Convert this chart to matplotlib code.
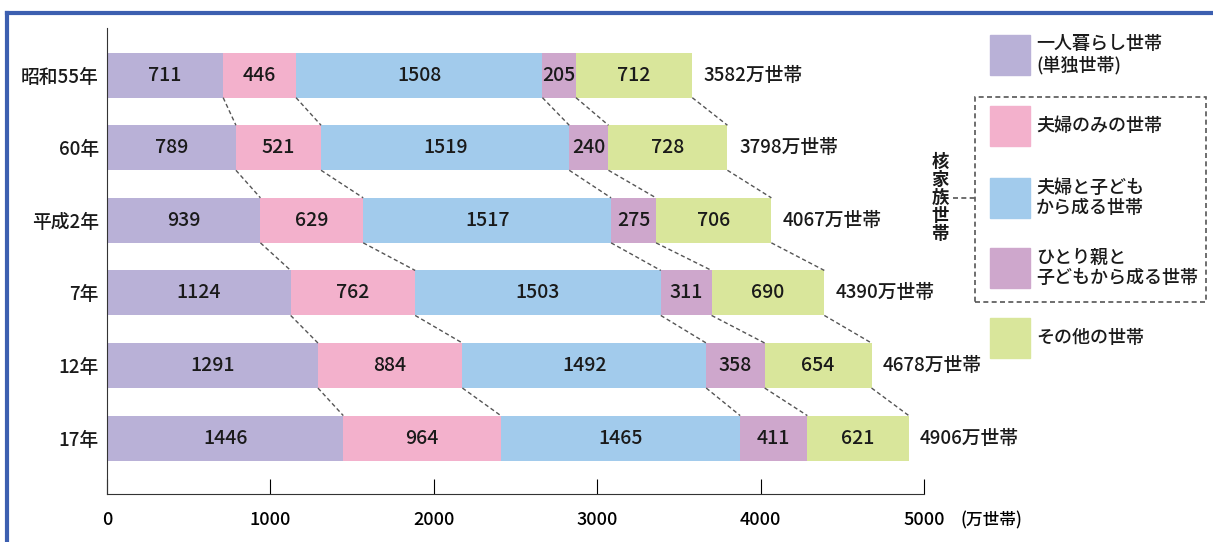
import numpy as np
import matplotlib.pyplot as plt
from matplotlib.patches import Rectangle
from matplotlib.lines import Line2D

plt.rcParams['font.family'] = ['Noto Sans CJK JP', 'DejaVu Sans']
plt.rcParams['font.weight'] = 'medium'

# データ
years = ['昭和55年', '60年', '平成2年', '7年', '12年', '17年']
single = [711, 789, 939, 1124, 1291, 1446]
couple = [446, 521, 629, 762, 884, 964]
couple_child = [1508, 1519, 1517, 1503, 1492, 1465]
single_parent = [205, 240, 275, 311, 358, 411]
other = [712, 728, 706, 690, 654, 621]
totals = [3582, 3798, 4067, 4390, 4678, 4906]

series = [single, couple, couple_child, single_parent, other]
colors = ['#b9b1d7', '#f3b1cc', '#a2cbec', '#cea7cc', '#d9e69b']
names = ['一人暮らし世帯\n(単独世帯)', '夫婦のみの世帯', '夫婦と子ども\nから成る世帯',
         'ひとり親と\n子どもから成る世帯', 'その他の世帯']

W, H = 1213, 542
fig = plt.figure(figsize=(W / 100, H / 100), dpi=100)
ax = fig.add_axes([107 / W, 1 - 494 / H, (924 - 107) / W, (494 - 28) / H])

y = np.arange(len(years))
h = 0.62
vals = np.array(series)
cum = np.cumsum(vals, axis=0)
left = cum - vals

for k in range(len(series)):
    ax.barh(y, vals[k], left=left[k], height=h, color=colors[k], edgecolor='none')
    for i in range(len(years)):
        ax.text(left[k][i] + vals[k][i] / 2, y[i], str(vals[k][i]),
                ha='center', va='center', fontsize=14, color='#1a1a1a')

# 点線の接続線
for k in range(len(series)):
    for i in range(len(years) - 1):
        ax.plot([cum[k][i], cum[k][i + 1]], [y[i] + h / 2, y[i + 1] - h / 2],
                ls=(0, (3, 2)), color='#555555', lw=1)

for i in range(len(years)):
    ax.text(totals[i] + 70, y[i], f'{totals[i]}万世帯', ha='left', va='center',
            fontsize=13.5, color='#1a1a1a')

ax.set_xlim(0, 5000)
ax.set_ylim(5.77, -0.65)
ax.set_yticks(y)
ax.set_yticklabels(years, fontsize=13.5, color='#1a1a1a')
ax.tick_params(axis='y', length=0, pad=6)
ax.set_xticks([0, 1000, 2000, 3000, 4000, 5000])
ax.tick_params(axis='x', direction='in', length=11, labelsize=13, pad=12)
ax.spines['top'].set_visible(False)
ax.spines['right'].set_visible(False)
ax.spines['left'].set_color('#333333')
ax.spines['bottom'].set_color('#333333')
fig.text(960 / W, 1 - 520 / H, '(万世帯)', fontsize=12, va='center', ha='left')

# 凡例
patch_y = [35, 106, 178, 248, 318]
for k in range(len(series)):
    fig.patches.append(Rectangle((990 / W, 1 - (patch_y[k] + 40) / H), 40 / W, 40 / H,
                                 transform=fig.transFigure, color=colors[k]))
    fig.text(1036 / W, 1 - (patch_y[k] + 20) / H, names[k], fontsize=13,
             va='center', ha='left', linespacing=1.2, color='#1a1a1a')

box = Rectangle((975 / W, 1 - 302 / H), (1206 - 975) / W, (302 - 97) / H,
                transform=fig.transFigure, fill=False, ls=(0, (3, 2)),
                edgecolor='#555555', lw=1.2)
fig.patches.append(box)
fig.lines.append(Line2D([953 / W, 975 / W], [1 - 198 / H, 1 - 198 / H],
                        transform=fig.transFigure, ls=(0, (3, 2)), color='#555555', lw=1.2))
fig.text(940 / W, 1 - 198 / H, '核\n家\n族\n世\n帯', fontsize=12.5, va='center', ha='center',
         linespacing=1.0, color='#1a1a1a', weight='bold')

# 青い枠
fig.lines.append(Line2D([7 / W, 1], [1 - 13 / H, 1 - 13 / H], transform=fig.transFigure,
                        color='#3c5fb0', lw=3))
fig.lines.append(Line2D([7 / W, 7 / W], [0, 1 - 13 / H], transform=fig.transFigure,
                        color='#3c5fb0', lw=3))

fig.savefig('out.png', dpi=100)
